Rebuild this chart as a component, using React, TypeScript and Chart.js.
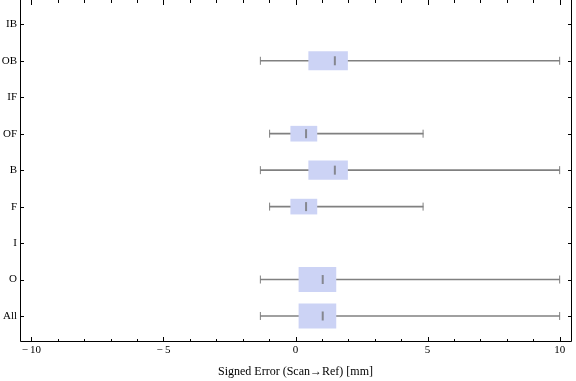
import React, { useEffect, useRef } from "react";
import { Chart, registerables } from "chart.js";

Chart.register(...registerables);

// Categories top to bottom
const categories = ["IB", "OB", "IF", "OF", "B", "F", "I", "O", "All"];
const whiskerLow: (number | null)[] = [null, -1.33, null, -0.98, -1.33, -0.98, null, -1.33, -1.33];
const q1: (number | null)[] = [null, 0.5, null, -0.18, 0.5, -0.18, null, 0.13, 0.13];
const median: (number | null)[] = [null, 1.49, null, 0.4, 1.49, 0.4, null, 1.03, 1.03];
const q3: (number | null)[] = [null, 1.97, null, 0.81, 1.97, 0.81, null, 1.53, 1.53];
const whiskerHigh: (number | null)[] = [null, 10, null, 4.83, 10, 4.83, null, 10, 10];
const xLabelTicks = [-10, -5, 0, 5, 10];
const xAxisTitle = "Signed Error (Scan\u2192Ref) [mm]";

// styles
const boxThickness: Record<string, number> = { OB: 18.5, OF: 15, B: 18.5, F: 15, O: 24.3, All: 24.3 };
const BOX_COLOR = "rgb(204,211,245)";
const WHISKER_COLOR = "rgb(128,128,128)";
const MEDIAN_COLOR = "rgba(110,110,110,0.75)";
const FONT = "'Liberation Serif', 'DejaVu Serif', serif";

const n = categories.length;
const posOf = (i: number) => n - 1 - i;

const frameTicks = {
  id: "frameTicks",
  afterDraw(chart: any) {
    const { ctx, chartArea: a, scales } = chart;
    const xs = scales.x;
    const ys = scales.y;
    ctx.save();
    ctx.strokeStyle = "#000";
    ctx.lineWidth = 1;
    ctx.beginPath();
    ctx.rect(a.left + 0.5, a.top - 0.5, a.right - a.left, a.bottom - a.top + 1);
    ctx.stroke();
    ctx.beginPath();
    for (let v = -10; v <= 10; v++) {
      const px = Math.round(xs.getPixelForValue(v)) + 0.5;
      const len = v % 5 === 0 ? 5 : 3;
      ctx.moveTo(px, a.bottom + 1);
      ctx.lineTo(px, a.bottom + 1 - len);
      ctx.moveTo(px, a.top);
      ctx.lineTo(px, a.top + len);
    }
    for (let i = 0; i < n; i++) {
      const py = Math.round(ys.getPixelForValue(posOf(i))) + 0.5;
      ctx.moveTo(a.left, py);
      ctx.lineTo(a.left + 4, py);
      ctx.moveTo(a.right + 1, py);
      ctx.lineTo(a.right + 1 - 4, py);
    }
    ctx.stroke();
    // category labels
    ctx.fillStyle = "#000";
    ctx.font = `11px ${FONT}`;
    ctx.textAlign = "right";
    ctx.textBaseline = "middle";
    for (let i = 0; i < n; i++) {
      ctx.fillText(categories[i], a.left - 3, ys.getPixelForValue(posOf(i)));
    }
    ctx.restore();
  },
};

export default function App() {
  const ref = useRef<HTMLCanvasElement>(null);
  useEffect(() => {
    document.body.style.margin = "0";
    const datasets: any[] = [];
    // whiskers
    datasets.push({
      type: "bar",
      data: categories
        .map((c, i) => (whiskerLow[i] == null ? null : { x: [whiskerLow[i], whiskerHigh[i]], y: posOf(i) }))
        .filter((d) => d),
      backgroundColor: WHISKER_COLOR,
      barThickness: 1,
      grouped: false,
      order: 5,
    });
    // boxes: one per category
    categories.forEach((c, i) => {
      if (q1[i] == null) return;
      datasets.push({
        type: "bar",
        data: [{ x: [q1[i], q3[i]], y: posOf(i) }],
        backgroundColor: BOX_COLOR,
        borderWidth: 0,
        barThickness: boxThickness[c],
        grouped: false,
        order: 3,
      });
    });
    // caps
    const caps: any[] = [];
    categories.forEach((c, i) => {
      if (whiskerLow[i] == null) return;
      caps.push({ x: whiskerLow[i], y: posOf(i) });
      caps.push({ x: whiskerHigh[i], y: posOf(i) });
    });
    datasets.push({
      type: "scatter",
      data: caps,
      pointStyle: "line",
      rotation: 90,
      radius: 4,
      borderWidth: 1,
      borderColor: WHISKER_COLOR,
      backgroundColor: WHISKER_COLOR,
      order: 1,
    });
    datasets.push({
      type: "scatter",
      data: categories
        .map((c, i) => (median[i] == null ? null : { x: median[i], y: posOf(i) }))
        .filter((d) => d),
      pointStyle: "line",
      rotation: 90,
      radius: 4.5,
      borderWidth: 2,
      borderColor: MEDIAN_COLOR,
      backgroundColor: MEDIAN_COLOR,
      order: 0,
    });

    const chart = new Chart(ref.current!, {
      type: "bar",
      data: { datasets },
      plugins: [frameTicks],
      options: {
        indexAxis: "y",
        animation: false,
        responsive: false,
        layout: { autoPadding: false, padding: { left: 0, right: 5, top: 0, bottom: 0 } },
        plugins: { legend: { display: false }, tooltip: { enabled: false } },
        scales: {
          x: {
            type: "linear",
            offset: false,
            min: -10.43,
            max: 10.43,
            grid: { display: false, drawTicks: false },
            border: { display: false },
            afterBuildTicks: (s: any) => {
              s.ticks = xLabelTicks.map((v) => ({ value: v }));
            },
            afterFit: (s: any) => {
              s.height = 40;
            },
            ticks: {
              padding: 3,
              color: "#000",
              font: { family: FONT, size: 11 },
              maxRotation: 0,
              autoSkip: false,
              callback: (v: any) => (Number(v) < 0 ? "\u2212\u2009" + Math.abs(Number(v)) : String(v)),
            },
            title: {
              display: true,
              text: xAxisTitle,
              color: "#000",
              font: { family: FONT, size: 12 },
              padding: { top: 0, bottom: 2 },
            },
          },
          y: {
            type: "linear",
            offset: false,
            min: -0.686,
            max: 8.667,
            grid: { display: false, drawTicks: false, offset: false },
            border: { display: false },
            ticks: { display: false },
            afterFit: (s: any) => {
              s.width = 20;
            },
          },
        },
      },
    });
    return () => chart.destroy();
  }, []);
  return (
    <div style={{ width: 576, height: 381 }}>
      <canvas ref={ref} width={576} height={381} style={{ display: "block" }} />
    </div>
  );
}
